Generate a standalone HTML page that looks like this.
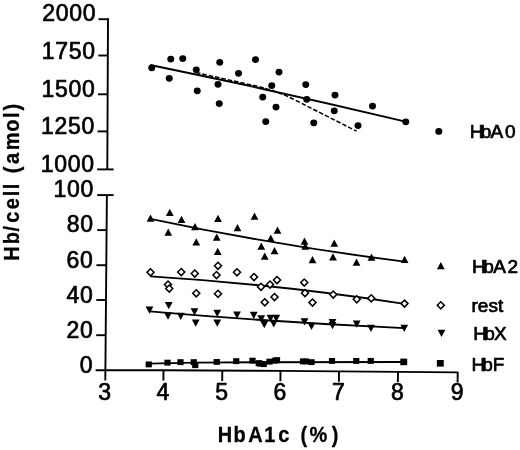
<!DOCTYPE html>
<html lang="en">
<head>
<meta charset="utf-8">
<title>Hb/cell vs HbA1c</title>
<style>
html,body{margin:0;padding:0;background:#fff;}
body{width:520px;height:450px;overflow:hidden;}
svg{display:block;}
text{font-family:"Liberation Sans",Arial,Helvetica,sans-serif;fill:#000;stroke:#000;stroke-width:0.7px;stroke-linejoin:round;}
.tick{font-size:23px;letter-spacing:0.7px;}
.leg{font-size:19px;}
.ttl{font-size:22px;font-weight:bold;stroke-width:0.3px;}
.ax{stroke:#000;stroke-width:1.9;fill:none;stroke-linecap:butt;}
.ln{stroke:#000;stroke-width:1.85;fill:none;}
</style>
</head>
<body>
<svg width="520" height="450" viewBox="0 0 520 450">
<rect width="520" height="450" fill="#fff"/>

<g class="ax">
<path d="M108 18.3 L107.3 169.4"/>
<path d="M106.9 195.1 L105.3 380.6"/>
<path d="M95.6 370.2 L163 370.3 L280 370.9 L458.2 372.4"/>
<path d="M98.5 19.2 L108.9 19.2"/>
<path d="M98.3 55.5 L107.9 55.5"/>
<path d="M98 94.3 L107.8 94.3"/>
<path d="M97.6 131.4 L107.5 131.4"/>
<path d="M97.2 169.4 L113.6 169.4"/>
<path d="M97.2 195.1 L113.6 195.1"/>
<path d="M97.2 230.1 L106.8 230.1"/>
<path d="M96.4 265.2 L106.4 265.2"/>
<path d="M96.3 300 L106 300"/>
<path d="M96.2 335.2 L105.6 335.2"/>
<path d="M163.5 370.1 L163.4 380.6"/>
<path d="M222.3 370.5 L222.20000000000002 381.0"/>
<path d="M280.5 370.8 L280.4 381.3"/>
<path d="M339 371.2 L338.9 381.7"/>
<path d="M398 371.5 L397.9 382.0"/>
<path d="M457.7 371.9 L457.59999999999997 382.4"/>
</g>
<g class="tick" text-anchor="end">
<text x="96.3" y="21.3">2000</text>
<text x="95.7" y="59">1750</text>
<text x="95.5" y="96.6">1500</text>
<text x="94.9" y="134.3">1250</text>
<text x="94.7" y="172">1000</text>
<text x="94.1" y="197.4">100</text>
<text x="93.7" y="232.4">80</text>
<text x="93.4" y="267.6">60</text>
<text x="93.4" y="302.6">40</text>
<text x="93.4" y="338">20</text>
<text x="93.2" y="373">0</text>
</g>
<g class="tick" text-anchor="middle">
<text x="105.1" y="400">3</text>
<text x="163.2" y="400">4</text>
<text x="222.0" y="400">5</text>
<text x="280.2" y="400">6</text>
<text x="338.7" y="400">7</text>
<text x="397.7" y="400">8</text>
<text x="457.4" y="400">9</text>
</g>
<text class="ttl" transform="translate(0 441.7) scale(0.907 1)" x="240.19 257.56 273.60 291.35 306.84 319.08 331.25 341.12 365.73" y="0">HbA1c (%)</text>
<text class="ttl" transform="translate(18.7 260) rotate(-90) scale(0.907 1)" x="-0.83 17.26 31.45 40.96 55.85 70.27 78.05 84.16 95.74 105.84 120.99 141.41 156.44 164.96" y="0">Hb/cell (amol)</text>
<g class="leg">
<text x="469.8 480.65 490.5 504.9" y="137.8">HbA0</text>
<text x="472.1 483.25 493.25 507.6" y="272.8">HbA2</text>
<text x="471.5" y="311.8">rest</text>
<text x="473.3 484.15 494" y="340.4">HbX</text>
<text x="471.4 482.15 492.8" y="370.8">HbF</text>
</g>
<g class="ln">
<path d="M150.3 64.9 Q277.9 91.1 405.5 121.6" stroke-width="2"/>
<path d="M196 72.6 L260 86.9 Q279 91.5 300 102.5 L356.6 131.2" stroke-dasharray="4.5 2" stroke-width="1.5"/>
<path d="M150.4 218.8 Q277.45 245.7 404.5 261.6"/>
<path d="M150.4 276.4 Q277.4 284.3 404.4 303.8"/>
<path d="M149.5 311.4 Q277 322.4 404.4 328.2"/>
<path d="M149 363.7 L195 362.6 L260 362.2 L403.75 362"/>
</g>
<g fill="#000">
<ellipse cx="151.75" cy="67.85" rx="3.5" ry="3.35"/>
<ellipse cx="170.75" cy="59.1" rx="3.5" ry="3.35"/>
<ellipse cx="182.75" cy="58.6" rx="3.5" ry="3.35"/>
<ellipse cx="169.25" cy="78.35" rx="3.5" ry="3.35"/>
<ellipse cx="196.25" cy="69.85" rx="3.5" ry="3.35"/>
<ellipse cx="197.25" cy="90.85" rx="3.5" ry="3.35"/>
<ellipse cx="219.75" cy="62.35" rx="3.5" ry="3.35"/>
<ellipse cx="218" cy="84.35" rx="3.5" ry="3.35"/>
<ellipse cx="219.25" cy="103.6" rx="3.5" ry="3.35"/>
<ellipse cx="238.5" cy="73.35" rx="3.5" ry="3.35"/>
<ellipse cx="255.5" cy="59.6" rx="3.5" ry="3.35"/>
<ellipse cx="279" cy="72.1" rx="3.5" ry="3.35"/>
<ellipse cx="271.75" cy="85.6" rx="3.5" ry="3.35"/>
<ellipse cx="262.75" cy="97.1" rx="3.5" ry="3.35"/>
<ellipse cx="276" cy="107.1" rx="3.5" ry="3.35"/>
<ellipse cx="265.75" cy="121.6" rx="3.5" ry="3.35"/>
<ellipse cx="305.75" cy="84.6" rx="3.5" ry="3.35"/>
<ellipse cx="306.75" cy="99.35" rx="3.5" ry="3.35"/>
<ellipse cx="313.75" cy="122.85" rx="3.5" ry="3.35"/>
<ellipse cx="335" cy="95.1" rx="3.5" ry="3.35"/>
<ellipse cx="334.25" cy="110.85" rx="3.5" ry="3.35"/>
<ellipse cx="372.5" cy="106.1" rx="3.5" ry="3.35"/>
<ellipse cx="358" cy="125.6" rx="3.5" ry="3.35"/>
<ellipse cx="405.75" cy="121.85" rx="3.5" ry="3.35"/>
<ellipse cx="438.8" cy="131.45" rx="3.5" ry="3.35"/>
<path d="M146.6 221.65 L154.4 221.65 L150.5 214.45 Z"/>
<path d="M165.85 215.9 L173.65 215.9 L169.75 208.7 Z"/>
<path d="M177.6 222.9 L185.4 222.9 L181.5 215.7 Z"/>
<path d="M164.35 235.65 L172.15 235.65 L168.25 228.45 Z"/>
<path d="M191.1 230.15 L198.9 230.15 L195 222.95 Z"/>
<path d="M192.35 245.4 L200.15 245.4 L196.25 238.2 Z"/>
<path d="M214.1 221.9 L221.9 221.9 L218 214.7 Z"/>
<path d="M212.85 240.65 L220.65 240.65 L216.75 233.45 Z"/>
<path d="M213.85 254.9 L221.65 254.9 L217.75 247.7 Z"/>
<path d="M233.6 231.15 L241.4 231.15 L237.5 223.95 Z"/>
<path d="M250.6 219.65 L258.4 219.65 L254.5 212.45 Z"/>
<path d="M273.6 233.65 L281.4 233.65 L277.5 226.45 Z"/>
<path d="M266.85 241.65 L274.65 241.65 L270.75 234.45 Z"/>
<path d="M257.35 249.65 L265.15 249.65 L261.25 242.45 Z"/>
<path d="M270.6 254.15 L278.4 254.15 L274.5 246.95 Z"/>
<path d="M260.85 259.65 L268.65 259.65 L264.75 252.45 Z"/>
<path d="M300.6 244.65 L308.4 244.65 L304.5 237.45 Z"/>
<path d="M301.35 249.65 L309.15 249.65 L305.25 242.45 Z"/>
<path d="M308.6 263.15 L316.4 263.15 L312.5 255.95 Z"/>
<path d="M330.35 246.65 L338.15 246.65 L334.25 239.45 Z"/>
<path d="M329.1 260.4 L336.9 260.4 L333 253.2 Z"/>
<path d="M352.6 265.65 L360.4 265.65 L356.5 258.45 Z"/>
<path d="M367.6 260.65 L375.4 260.65 L371.5 253.45 Z"/>
<path d="M400.70000000000005 263.0 L408.5 263.0 L404.6 255.8 Z"/>
<path d="M436.90000000000003 269.29999999999995 L444.7 269.29999999999995 L440.8 262.09999999999997 Z"/>
<path d="M145.6 306.6 L153.4 306.6 L149.5 313.8 Z"/>
<path d="M164.85 302.1 L172.65 302.1 L168.75 309.3 Z"/>
<path d="M164.1 312.6 L171.9 312.6 L168 319.8 Z"/>
<path d="M176.85 312.85 L184.65 312.85 L180.75 320.05 Z"/>
<path d="M190.6 308.35 L198.4 308.35 L194.5 315.55 Z"/>
<path d="M191.85 319.6 L199.65 319.6 L195.75 326.8 Z"/>
<path d="M213.35 309.85 L221.15 309.85 L217.25 317.05 Z"/>
<path d="M213.35 319.6 L221.15 319.6 L217.25 326.8 Z"/>
<path d="M233.1 311.6 L240.9 311.6 L237 318.8 Z"/>
<path d="M249.85 311.85 L257.65 311.85 L253.75 319.05 Z"/>
<path d="M257.35 315.35 L265.15 315.35 L261.25 322.55 Z"/>
<path d="M260.35 321.1 L268.15 321.1 L264.25 328.3 Z"/>
<path d="M266.6 314.85 L274.4 314.85 L270.5 322.05 Z"/>
<path d="M272.35 314.85 L280.15 314.85 L276.25 322.05 Z"/>
<path d="M269.85 320.35 L277.65 320.35 L273.75 327.55 Z"/>
<path d="M300.6 318.35 L308.4 318.35 L304.5 325.55 Z"/>
<path d="M307.6 322.85 L315.4 322.85 L311.5 330.05 Z"/>
<path d="M328.6 319.1 L336.4 319.1 L332.5 326.3 Z"/>
<path d="M328.6 322.1 L336.4 322.1 L332.5 329.3 Z"/>
<path d="M352.85 320.6 L360.65 320.6 L356.75 327.8 Z"/>
<path d="M367.1 324.85 L374.9 324.85 L371 332.05 Z"/>
<path d="M400.35 324.8 L408.15 324.8 L404.25 332.0 Z"/>
<path d="M437.6 329.8 L445.4 329.8 L441.5 337.0 Z"/>
<rect x="145.65" y="361.45" width="6.2" height="5.9"/>
<rect x="164.40" y="359.70" width="6.2" height="5.9"/>
<rect x="177.40" y="359.20" width="6.2" height="5.9"/>
<rect x="190.65" y="359.20" width="6.2" height="5.9"/>
<rect x="192.15" y="362.20" width="6.2" height="5.9"/>
<rect x="213.65" y="358.95" width="6.2" height="5.9"/>
<rect x="233.15" y="358.20" width="6.2" height="5.9"/>
<rect x="249.40" y="357.70" width="6.2" height="5.9"/>
<rect x="255.65" y="360.20" width="6.2" height="5.9"/>
<rect x="256.90" y="360.70" width="6.2" height="5.9"/>
<rect x="260.65" y="361.20" width="6.2" height="5.9"/>
<rect x="266.40" y="358.70" width="6.2" height="5.9"/>
<rect x="271.90" y="357.70" width="6.2" height="5.9"/>
<rect x="273.90" y="357.20" width="6.2" height="5.9"/>
<rect x="299.90" y="358.45" width="6.2" height="5.9"/>
<rect x="302.90" y="358.45" width="6.2" height="5.9"/>
<rect x="308.40" y="359.20" width="6.2" height="5.9"/>
<rect x="328.90" y="357.95" width="6.2" height="5.9"/>
<rect x="353.15" y="357.95" width="6.2" height="5.9"/>
<rect x="367.65" y="357.95" width="6.2" height="5.9"/>
<rect x="400.30" y="358.60" width="6.9" height="6.6"/>
<rect x="436.85" y="360.00" width="6.9" height="6.6"/>
</g>
<g fill="#fff" stroke="#000" stroke-width="1.55">
<path d="M147.00 272.30 L150.5 268.80 L154.00 272.30 L150.5 275.80 Z"/>
<path d="M164.50 284.55 L168 281.05 L171.50 284.55 L168 288.05 Z"/>
<path d="M165.75 288.55 L169.25 285.05 L172.75 288.55 L169.25 292.05 Z"/>
<path d="M177.75 272.05 L181.25 268.55 L184.75 272.05 L181.25 275.55 Z"/>
<path d="M191.25 273.55 L194.75 270.05 L198.25 273.55 L194.75 277.05 Z"/>
<path d="M214.50 265.80 L218 262.30 L221.50 265.80 L218 269.30 Z"/>
<path d="M213.00 275.05 L216.5 271.55 L220.00 275.05 L216.5 278.55 Z"/>
<path d="M233.50 272.30 L237 268.80 L240.50 272.30 L237 275.80 Z"/>
<path d="M250.50 277.05 L254 273.55 L257.50 277.05 L254 280.55 Z"/>
<path d="M192.75 293.30 L196.25 289.80 L199.75 293.30 L196.25 296.80 Z"/>
<path d="M214.50 293.80 L218 290.30 L221.50 293.80 L218 297.30 Z"/>
<path d="M273.50 280.05 L277 276.55 L280.50 280.05 L277 283.55 Z"/>
<path d="M266.50 284.55 L270 281.05 L273.50 284.55 L270 288.05 Z"/>
<path d="M257.50 286.80 L261 283.30 L264.50 286.80 L261 290.30 Z"/>
<path d="M300.75 282.55 L304.25 279.05 L307.75 282.55 L304.25 286.05 Z"/>
<path d="M301.50 293.05 L305 289.55 L308.50 293.05 L305 296.55 Z"/>
<path d="M271.00 297.05 L274.5 293.55 L278.00 297.05 L274.5 300.55 Z"/>
<path d="M261.25 302.30 L264.75 298.80 L268.25 302.30 L264.75 305.80 Z"/>
<path d="M309.00 302.55 L312.5 299.05 L316.00 302.55 L312.5 306.05 Z"/>
<path d="M329.75 294.55 L333.25 291.05 L336.75 294.55 L333.25 298.05 Z"/>
<path d="M353.25 299.30 L356.75 295.80 L360.25 299.30 L356.75 302.80 Z"/>
<path d="M367.75 298.30 L371.25 294.80 L374.75 298.30 L371.25 301.80 Z"/>
<path d="M401.00 303.60 L404.5 300.10 L408.00 303.60 L404.5 307.10 Z"/>
<path d="M437.30 305.30 L440.8 301.80 L444.30 305.30 L440.8 308.80 Z"/>
</g>
</svg>
</body>
</html>
